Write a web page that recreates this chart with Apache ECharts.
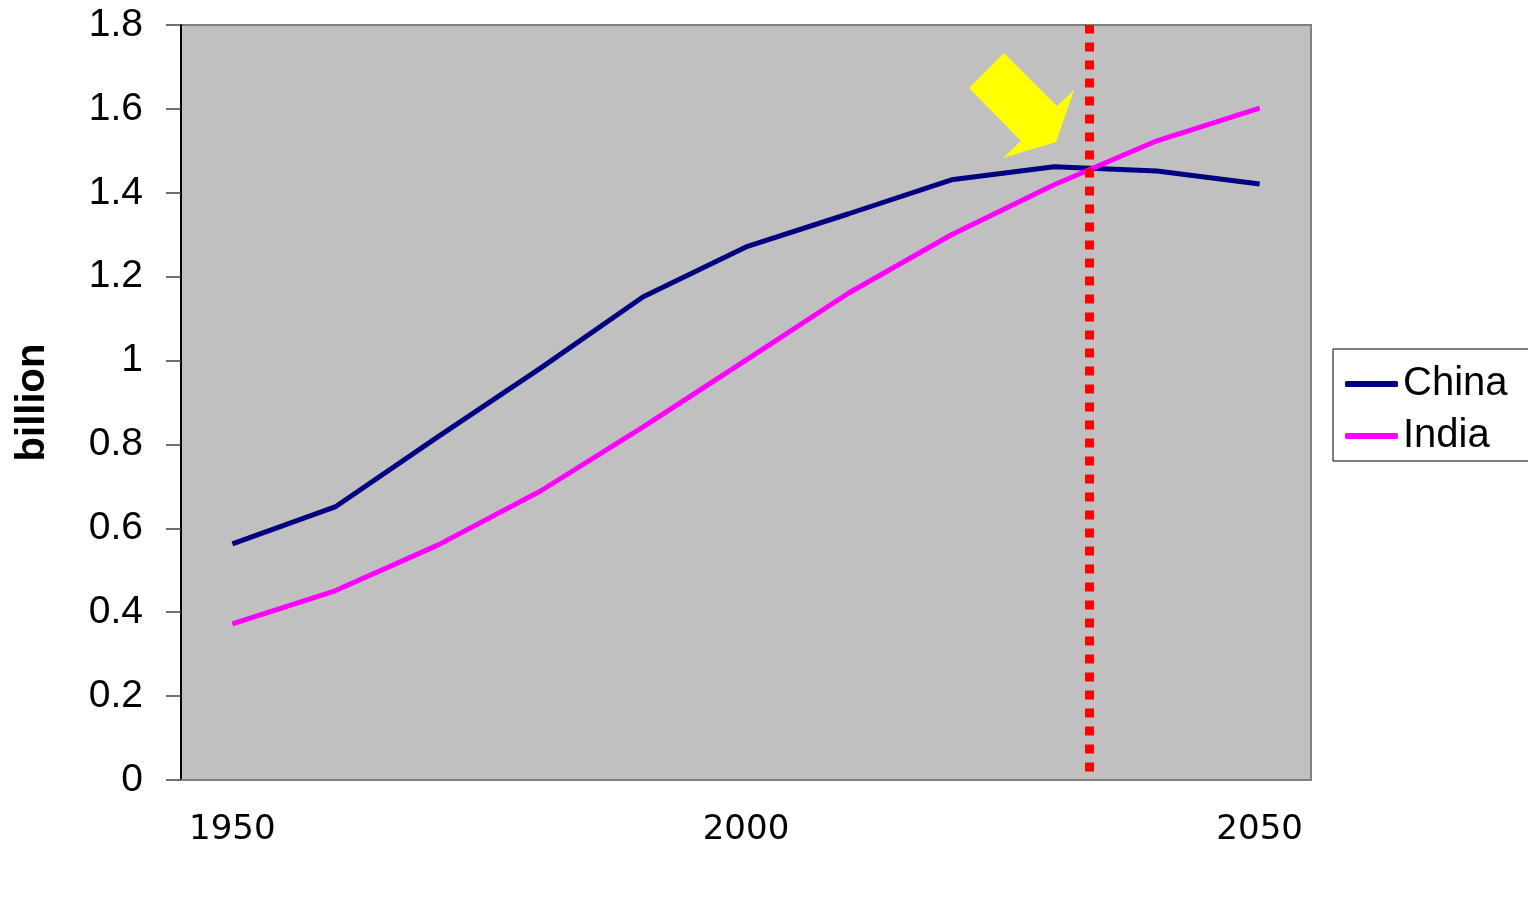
<!DOCTYPE html>
<html>
<head>
<meta charset="utf-8">
<script src="https://cdn.jsdelivr.net/npm/echarts@6/dist/echarts.min.js"></script>
<style>html,body{margin:0;padding:0;background:#fff;}#c{width:1528px;height:898px;}</style>
</head>
<body>
<div id="c"></div>
<script>
const years = [1950, 1960, 1970, 1980, 1990, 2000, 2010, 2020, 2030, 2040, 2050];
const china = [0.563, 0.651, 0.818, 0.982, 1.152, 1.271, 1.350, 1.431, 1.462, 1.452, 1.421];
const india = [0.372, 0.451, 0.560, 0.689, 0.842, 1.001, 1.161, 1.300, 1.419, 1.524, 1.602];
const xTickLabels = [1950, 2000, 2050];
const crossoverYear = 2033.4;

const chart = echarts.init(document.getElementById('c'));
chart.setOption({
  animation: false,
  grid: {
    left: 181, right: 217, top: 25, bottom: 118,
    show: true, backgroundColor: '#C0C0C0', borderColor: '#808080', borderWidth: 2
  },
  legend: {
    orient: 'vertical', left: 1333, top: 349,
    data: ['China', 'India'],
    icon: 'roundRect', itemWidth: 53, itemHeight: 6, itemGap: 12,
    padding: [15, 40, 5, 12],
    backgroundColor: '#fff', borderColor: '#000', borderWidth: 1,
    textStyle: { fontFamily: 'Liberation Sans, Arial', fontSize: 40, color: '#000', lineHeight: 40 }
  },
  xAxis: {
    type: 'value', min: 1945, max: 2055,
    axisLine: { show: true, lineStyle: { color: '#808080', width: 2 } },
    axisTick: { show: false },
    splitLine: { show: false },
    axisLabel: {
      customValues: xTickLabels, margin: 33,
      formatter: v => String(v),
      fontFamily: 'DejaVu Sans', fontSize: 34, color: '#000'
    }
  },
  yAxis: {
    type: 'value', min: 0, max: 1.8, interval: 0.2,
    name: 'billions', nameLocation: 'middle', nameGap: 128,
    nameTruncate: { maxWidth: 125, ellipsis: '' },
    nameTextStyle: { fontFamily: 'Liberation Sans, Arial', fontSize: 40, fontWeight: 'bold', color: '#000' },
    axisLine: { show: true, lineStyle: { color: '#000', width: 2 } },
    axisTick: { show: true, inside: false, length: 15, lineStyle: { color: '#404040', width: 1.5 } },
    splitLine: { show: false },
    axisLabel: { margin: 38, fontFamily: 'Liberation Sans, Arial', fontSize: 39, color: '#000' }
  },
  series: [
    {
      name: 'China', type: 'line', symbol: 'none',
      data: years.map((y, i) => [y, china[i]]),
      lineStyle: { color: '#000080', width: 5 }, itemStyle: { color: '#000080' },
      markLine: {
        silent: true, symbol: 'none', label: { show: false },
        lineStyle: { color: '#FF0000', width: 9, type: [9, 9] },
        data: [[{ coord: [crossoverYear, 0.02] }, { coord: [crossoverYear, 1.8] }]]
      }
    },
    {
      name: 'India', type: 'line', symbol: 'none',
      data: years.map((y, i) => [y, india[i]]),
      lineStyle: { color: '#FF00FF', width: 5 }, itemStyle: { color: '#FF00FF' }
    }
  ],
  graphic: [
    {
      type: 'polygon', z: 100,
      shape: { points: [[1004, 53], [1057, 106], [1074, 90], [1056, 142], [1003, 158], [1021, 141], [969, 88]] },
      style: { fill: '#FFFF00' }
    }
  ]
});
</script>
</body>
</html>
